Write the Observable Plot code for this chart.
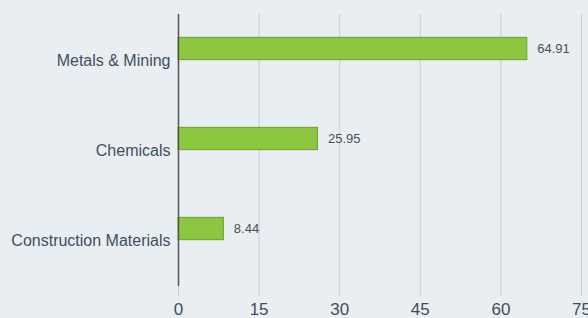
<!DOCTYPE html>
<html>
<head>
<meta charset="utf-8">
<script src="https://cdn.jsdelivr.net/npm/d3@7"></script>
<script src="https://cdn.jsdelivr.net/npm/@observablehq/plot@0.6"></script>
<style>
  html, body { margin: 0; padding: 0; background: #e9eef2; }
  #chart { width: 588px; height: 318px; }
</style>
</head>
<body>
<div id="chart"></div>
<script>
const categories = ["Metals & Mining", "Chemicals", "Construction Materials"];
const values = [64.91, 25.95, 8.44];
const xTicks = [0, 15, 30, 45, 60, 75];

const data = categories.map((c, i) => ({category: c, value: values[i]}));

const plotTop = 14, plotBottom = 286;
const step = (plotBottom - plotTop) / categories.length;
const barH = 23;

const chart = Plot.plot({
  width: 588,
  height: 318,
  marginLeft: 178,
  marginRight: 7,
  marginTop: plotTop,
  marginBottom: 318 - plotBottom,
  style: {background: "#e9eef2", fontFamily: "'Liberation Sans', Arial, sans-serif"},
  x: {domain: [0, 75], ticks: xTicks},
  y: {domain: categories, padding: 0},
  marks: [
    Plot.gridX(xTicks, {stroke: "#c9cdd0", strokeOpacity: 1}),
    Plot.axisX(xTicks, {tickSize: 10, stroke: "#c9cdd0", tickPadding: 6, fontSize: 17, fill: "#3e4f5e", label: null}),
    Plot.axisY({tickSize: 0, tickPadding: 8, fontSize: 16, fill: "#3e4f5e", label: null}),
    Plot.barX(data, {
      x: "value", y: "category",
      fill: "#8dc63f", stroke: "#6d9f2e", strokeWidth: 1,
      insetTop: step / 2 - barH, insetBottom: step / 2
    }),
    Plot.text(data, {
      x: "value", y: "category", text: d => d.value.toFixed(2),
      dx: 10, dy: -barH / 2, textAnchor: "start",
      fontSize: 13, fill: "#4a4f55"
    }),
    Plot.ruleX([0], {stroke: "#555", strokeWidth: 1.5})
  ]
});
document.getElementById("chart").append(chart);
</script>
</body>
</html>
